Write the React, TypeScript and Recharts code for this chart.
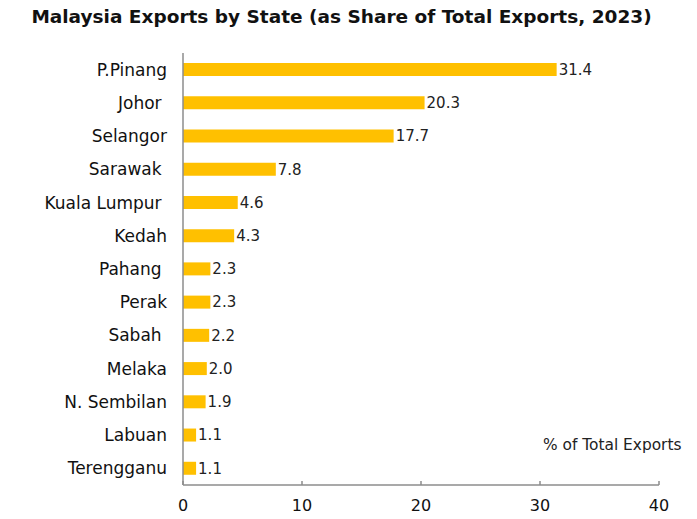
import { BarChart, Bar, XAxis, YAxis, LabelList } from "recharts";

const states = [
  "P.Pinang",
  "Johor ",
  "Selangor",
  "Sarawak ",
  "Kuala Lumpur ",
  "Kedah",
  "Pahang ",
  "Perak",
  "Sabah ",
  "Melaka",
  "N. Sembilan",
  "Labuan",
  "Terengganu",
];
const shares = [31.4, 20.3, 17.7, 7.8, 4.6, 4.3, 2.3, 2.3, 2.2, 2.0, 1.9, 1.1, 1.1];
const xTicks = [0, 10, 20, 30, 40];

const data = states.map((state, i) => ({ state, share: shares[i] }));

const FONT = "'DejaVu Sans', Verdana, sans-serif";
const AXIS = "#8c8c8c";

function StateTick(props: any) {
  const { x, y, payload } = props;
  return (
    <text
      x={x}
      y={y}
      dy={6}
      textAnchor="end"
      fontSize={17}
      fill="#111"
      fontFamily={FONT}
      style={{ whiteSpace: "pre" }}
    >
      {payload.value}
    </text>
  );
}

function ValueTick(props: any) {
  const { x, y, payload } = props;
  return (
    <g>
      <line x1={x} x2={x} y1={y} y2={y - 4} stroke={AXIS} strokeWidth={1.5} />
      <text x={x} y={y + 26} textAnchor="middle" fontSize={16} fill="#111" fontFamily={FONT}>
        {payload.value}
      </text>
    </g>
  );
}

export default function App() {
  return (
    <div style={{ position: "absolute", left: 0, top: 0, width: 697, height: 519, background: "#fff", fontFamily: FONT }}>
      <div
        style={{
          position: "absolute",
          left: 0,
          top: 6,
          width: 683,
          textAlign: "center",
          fontSize: 18.5,
          fontWeight: "bold",
          color: "#111",
        }}
      >
        Malaysia Exports by State (as Share of Total Exports, 2023)
      </div>
      <div style={{ position: "absolute", left: 543, top: 436, fontSize: 15.4, color: "#222" }}>% of Total Exports</div>
      <BarChart
        width={697}
        height={519}
        data={data}
        layout="vertical"
        margin={{ top: 53, right: 38, bottom: 4, left: 0 }}
        barCategoryGap={0}
      >
        <XAxis
          type="number"
          domain={[0, 40]}
          ticks={xTicks}
          height={30}
          axisLine={{ stroke: AXIS, strokeWidth: 1.5 }}
          tickLine={false}
          tickSize={0}
          tickMargin={0}
          tick={<ValueTick />}
        />
        <YAxis
          type="category"
          dataKey="state"
          width={183}
          axisLine={{ stroke: AXIS, strokeWidth: 1.5 }}
          tickLine={false}
          tickSize={0}
          tickMargin={16}
          tick={<StateTick />}
          interval={0}
        />
        <Bar dataKey="share" fill="#FFC000" barSize={13} isAnimationActive={false}>
          <LabelList
            dataKey="share"
            position="right"
            offset={2}
            formatter={(v: any) => Number(v).toFixed(1)}
            style={{ fontSize: 15, fill: "#222", fontFamily: FONT }}
          />
        </Bar>
      </BarChart>
    </div>
  );
}
